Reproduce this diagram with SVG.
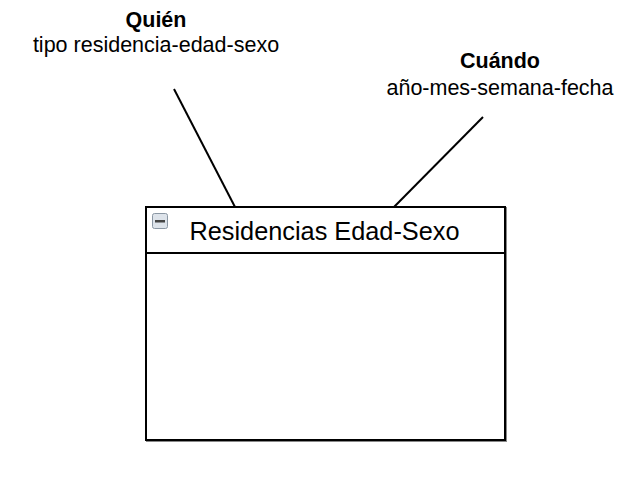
<svg xmlns="http://www.w3.org/2000/svg" width="629" height="481" viewBox="0 0 629 481">
<style>
.lbl{font-family:"Liberation Sans",Arial,sans-serif;font-size:21.5px;fill:#000;text-anchor:middle}
.b{font-weight:bold}
.conn{stroke:#000;stroke-width:2;fill:none}
</style>
<rect width="629" height="481" fill="#fff"/>
<g id="connectors">
<line class="conn" x1="174" y1="89" x2="235" y2="207"/>
<line class="conn" x1="483" y1="117" x2="394" y2="207"/>
</g>
<g id="quien">
<text class="lbl b" x="156" y="27">Quién</text>
<text class="lbl" x="156" y="52">tipo residencia-edad-sexo</text>
</g>
<g id="cuando">
<text class="lbl b" x="500" y="68">Cuándo</text>
<text class="lbl" x="500" y="95">año-mes-semana-fecha</text>
</g>
<g id="residencias">
<rect x="147" y="208" width="359" height="233" fill="none" stroke="#888" stroke-width="2"/>
<rect x="146" y="207" width="359" height="233" fill="#fff" stroke="#000" stroke-width="2"/>
<line x1="146" y1="253" x2="505" y2="253" stroke="#000" stroke-width="2"/>
<rect x="152.5" y="213.5" width="15" height="15" rx="2" fill="#dde3ea" stroke="#8a96a3"/>
<rect x="155" y="220" width="10" height="2.5" fill="#444"/>
<text class="lbl" x="324.5" y="240" style="font-size:25.3px">Residencias Edad-Sexo</text>
</g>
</svg>
